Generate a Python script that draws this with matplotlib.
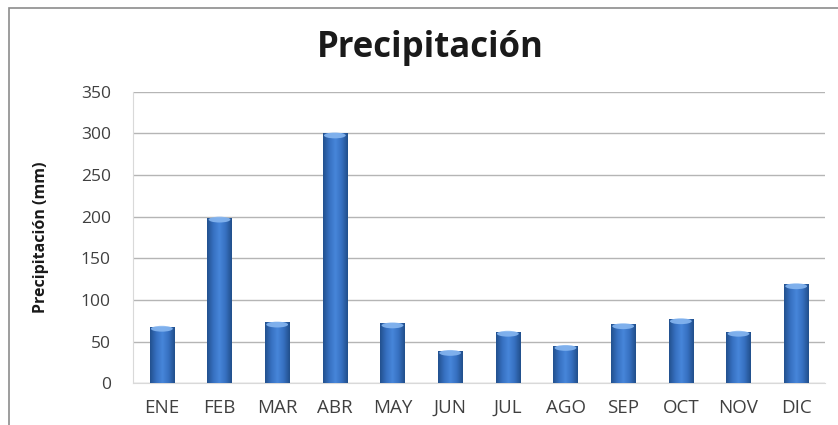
import matplotlib
matplotlib.use("Agg")
import matplotlib.pyplot as plt
import numpy as np
from matplotlib.patches import Ellipse, Rectangle
from matplotlib.colors import LinearSegmentedColormap

months = ["ENE", "FEB", "MAR", "ABR", "MAY", "JUN", "JUL", "AGO", "SEP", "OCT", "NOV", "DIC"]
precip = [68, 199, 73, 300, 72, 39, 62, 45, 71, 77, 62, 119]
yticks = [0, 50, 100, 150, 200, 250, 300, 350]

plt.rcParams['font.family'] = ['Open Sans', 'DejaVu Sans']

fig = plt.figure(figsize=(8.38, 4.25), dpi=100)
fig.patch.set_facecolor('white')
# outer border
fig.add_artist(Rectangle((9/838, -0.1), 1.2, 1 - 8/425 + 0.1, transform=fig.transFigure,
                         fill=False, edgecolor='#8c8c8c', linewidth=1.2))

ax = fig.add_axes([133/838, 1 - 383.3/425, (825 - 133)/838, (383.3 - 91.7)/425])
ax.set_xlim(-0.5, 11.5)
ax.set_ylim(0, 350)

cmap = LinearSegmentedColormap.from_list("cyl", ["#22508d", "#3670c0", "#4786da", "#3670c0", "#214e8a"])
grad = np.linspace(0, 1, 256).reshape(1, -1)
width = 0.42
bars = ax.bar(range(len(months)), precip, width=width, color='none', edgecolor='none', zorder=3)
for i, (b, v) in enumerate(zip(bars, precip)):
    x0 = b.get_x()
    im = ax.imshow(grad, cmap=cmap, aspect='auto', extent=(x0, x0 + width, 0, v), zorder=3,
                   interpolation='bicubic')
    im.set_clip_path(b)
    ax.add_patch(Ellipse((i, v - 2.5), width * 0.9, 7, facecolor='#86b6f0', edgecolor='none',
                         alpha=0.9, zorder=4))

ax.set_xlim(-0.5, 11.5)
ax.set_ylim(0, 350)
ax.set_yticks(yticks)
ax.set_xticks(range(len(months)))
ax.set_xticklabels(months)
ax.yaxis.grid(True, color='#b5b5b5', linewidth=1.0, zorder=0)
ax.set_axisbelow(True)
for s in ['top', 'right']:
    ax.spines[s].set_visible(False)
ax.spines['left'].set_color('#d9d9d9')
ax.spines['bottom'].set_color('#d9d9d9')
ax.tick_params(axis='both', length=0, colors='#404040')
ax.tick_params(axis='y', pad=16, labelsize=12.5)
ax.tick_params(axis='x', pad=11, labelsize=13.5)
ax.set_ylabel("Precipitación (mm)", fontsize=11.5, fontweight='bold', color='#1a1a1a', labelpad=23)

fig.text(430/838, 1 - 48/425, "Precipitación", ha='center', va='center', fontsize=25,
         fontweight='bold', color='#1a1a1a')

fig.savefig("out.png", dpi=100, facecolor='white')
